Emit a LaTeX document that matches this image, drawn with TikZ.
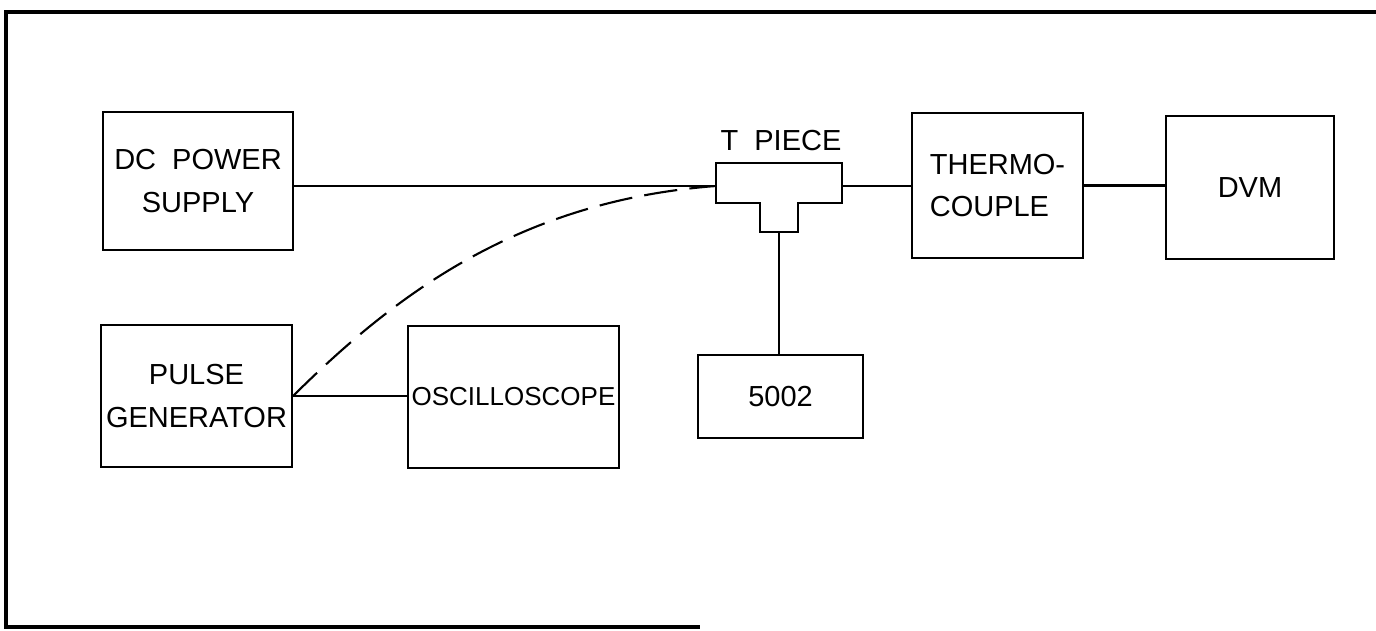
\documentclass[tikz,border=0pt]{standalone}
\usepackage{fontspec}
\setmainfont{Liberation Sans}
\usetikzlibrary{positioning}

\begin{document}
\begin{tikzpicture}[x=0.02cm, y=-0.02cm, line width=1.2pt,
    every node/.style={font=\fontsize{16.5}{24}\selectfont},
    unit/.style={draw, line width=1.2pt, align=center, inner sep=0pt},
    feed/.style={line width=1.2pt, dash pattern=on 19pt off 7pt}]
    \useasboundingbox (0,0) rectangle (1376,631);
    % Frame
    \draw[line width=2.2pt] (1376,12) -- (6,12) -- (6,627) -- (700,627);
    % Boxes
    \node[unit, minimum width=3.8cm, minimum height=2.76cm] (dc) at (198,181) {DC\ \ POWER\\SUPPLY};
    \node[unit, minimum width=3.82cm, minimum height=2.84cm] (pulse) at (196.5,396) {PULSE\\GENERATOR};
    \node[unit, minimum width=4.22cm, minimum height=2.84cm, font=\fontsize{14.8}{24}\selectfont] (osc) at (513.5,397) {OSCILLOSCOPE};
    \node[unit, minimum width=3.42cm, minimum height=2.9cm, align=left] (tc) at (997.5,185.5) {THERMO-\\COUPLE};
    \node[unit, minimum width=3.36cm, minimum height=2.86cm] (dvm) at (1250,187.5) {DVM};
    \node[unit, minimum width=3.3cm, minimum height=1.66cm] (meter) at (780.5,396.5) {5002};
    % T piece
    \draw (716,163) -- (842,163) -- (842,203) -- (798,203) -- (798,232)
      -- (760,232) -- (760,203) -- (716,203) -- cycle;
    \coordinate (tin) at (716,186);
    \coordinate (tout) at (842,186);
    \coordinate (tleg) at (779,232);
    \node (tlabel) at (781,141) {T\ \ PIECE};
    % Connections
    \draw (dc.east |- tin) -- (tin);
    \draw (tout) -- (tout -| tc.west);
    \draw (tc.east) -- (tc.east -| dvm.west);
    \draw (tleg) -- (tleg |- meter.north);
    \draw (pulse.east) -- (pulse.east -| osc.west);
    \draw[feed] (pulse.east) .. controls (392,298) and (516,201) .. (tin);
\end{tikzpicture}
\end{document}
